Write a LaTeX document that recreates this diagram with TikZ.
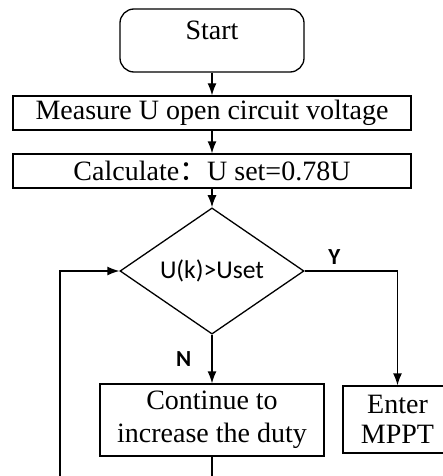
\documentclass[tikz,border=0pt]{standalone}
\usepackage{fontspec}
\setmainfont{Liberation Serif}
\newfontfamily\cjk{Noto Sans CJK SC}
\newfontfamily\calib{Carlito}
\usetikzlibrary{shapes.geometric, arrows.meta}

\begin{document}
\begin{tikzpicture}[x=0.5pt, y=-0.5pt, line width=0.65pt,
  every node/.style={font=\fontsize{14}{16.5}\selectfont},
  procbox/.style={draw, rectangle, inner sep=0pt, align=center},
  flowarrow/.style={-{Latex[length=6pt, width=4.5pt]}},
  lbl/.style={font=\calib\bfseries\fontsize{11.5}{13}\selectfont, inner sep=0pt}]
  \useasboundingbox (0,0) rectangle (443,476);
  \clip (0,0) rectangle (443,476);
  \node[procbox, rounded corners=7pt, minimum width=92pt, text height=15.5pt, text depth=16pt] (start) at (212,40.5) {Start};
  \node[procbox, minimum width=199pt, minimum height=17pt] (measure) at (212,113) {Measure U open circuit voltage};
  \node[procbox, minimum width=199pt, minimum height=17pt] (calc) at (212,171) {Calculate{\cjk ：}U set=0.78U};
  \node[draw, diamond, inner sep=0pt, minimum width=92pt, minimum height=59pt, font=\calib\fontsize{12.8}{14}\selectfont] (dec) at (212,271) {U(k)>Uset};
  \node[procbox, minimum width=112pt, minimum height=36pt] (cont) at (212,420) {Continue to\\increase the duty};
  \node[procbox, minimum width=54.5pt, minimum height=33.5pt, font=\fontsize{14}{15}\selectfont] (mppt) at (397.5,419.5) {Enter\\MPPT};
  \coordinate (loopL) at (60,495);
  \draw[flowarrow] (start) -- (measure);
  \draw[flowarrow] (measure) -- (calc);
  \draw[flowarrow] (calc) -- (dec);
  \draw[flowarrow] (dec) -- (cont) node[lbl, pos=0.5, left=10pt] (nlbl) {N};
  \draw[flowarrow] (dec.east) -| (mppt.north) node[lbl, pos=0.16, above=3pt] (ylbl) {Y};
  \draw[flowarrow] (cont.south) |- (loopL) |- (dec.west);
\end{tikzpicture}
\end{document}
